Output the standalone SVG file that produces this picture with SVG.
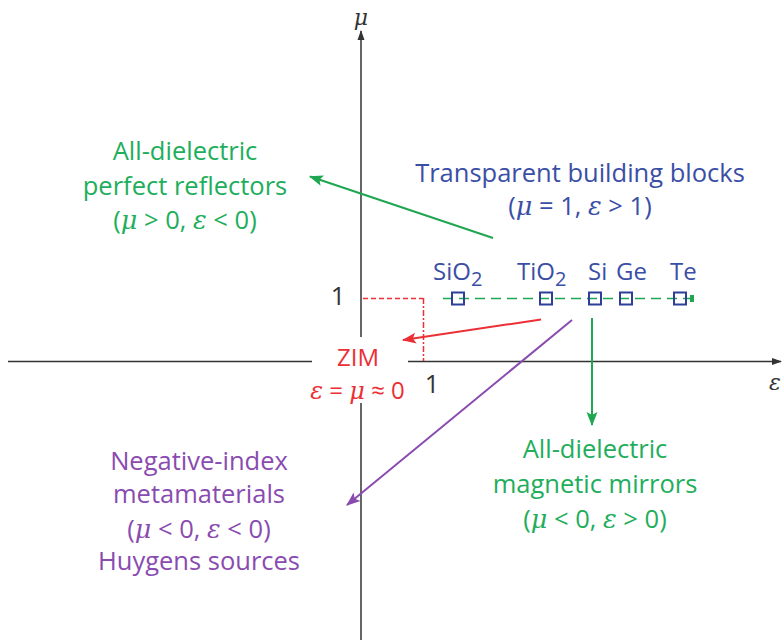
<svg xmlns="http://www.w3.org/2000/svg" width="782" height="644" viewBox="0 0 782 644">
<defs>
<style>
.t{font-family:"Open Sans","Noto Sans","Liberation Sans",sans-serif;font-size:25.5px;text-anchor:middle}
.m{font-size:24px}
.i{font-style:italic;font-family:"DejaVu Serif","Liberation Serif",serif}
.g{fill:#1eae5c}
.b{fill:#3b4ea6}
.p{fill:#8a4bb0}
.r{fill:#ec2f35}
.k{fill:#333333}
.sq{fill:none;stroke:#2d3f96;stroke-width:2}
</style>
<marker id="ak" markerWidth="10" markerHeight="10" refX="9" refY="5" orient="auto" markerUnits="userSpaceOnUse"><path d="M0,1.5 L10,5 L0,8.5 z" fill="#333"/></marker>
<marker id="ag" markerWidth="14" markerHeight="14" refX="13" refY="7" orient="auto" markerUnits="userSpaceOnUse"><path d="M0,1.5 L14,7 L0,12.5 L3,7 z" fill="#1ea650"/></marker>
<marker id="ar" markerWidth="14" markerHeight="14" refX="13" refY="7" orient="auto" markerUnits="userSpaceOnUse"><path d="M0,1.5 L14,7 L0,12.5 L3,7 z" fill="#ec2f35"/></marker>
<marker id="ap" markerWidth="14" markerHeight="14" refX="13" refY="7" orient="auto" markerUnits="userSpaceOnUse"><path d="M0,1.5 L14,7 L0,12.5 L3,7 z" fill="#8a4bb0"/></marker>
</defs>
<rect width="782" height="644" fill="#fff"/>
<g id="axes">
<line x1="8" y1="361.5" x2="781" y2="361.5" stroke="#333" stroke-width="1.5" marker-end="url(#ak)"/>
<line x1="361" y1="640" x2="361" y2="31" stroke="#333" stroke-width="1.5" marker-end="url(#ak)"/>
<text x="361" y="25" class="t i" style="font-size:22px" fill="#333">μ</text>
<text x="775" y="390" class="t i" style="font-size:22px" fill="#333">ε</text>
<text x="338" y="305" class="t k">1</text>
<text x="432" y="393" class="t k">1</text>
</g>
<g id="guides">
<line x1="363" y1="298.5" x2="423" y2="298.5" stroke="#ec2f35" stroke-width="1.5" stroke-dasharray="5 3"/>
<line x1="423.5" y1="298" x2="423.5" y2="361" stroke="#ec2f35" stroke-width="1.5" stroke-dasharray="6 2 2 2"/>
<line x1="443" y1="298.5" x2="691" y2="298.5" stroke="#1ea650" stroke-width="1.5" stroke-dasharray="10 6"/>
<rect x="690" y="295" width="4" height="7" fill="#1ea650"/>
</g>
<g id="zim">
<rect x="312" y="337" width="96" height="66" fill="#fff"/>
<text x="358" y="366" class="t r" style="font-size:24px">ZIM</text>
<text x="357.5" y="399" class="t r" style="font-size:24px"><tspan class="i">ε</tspan> = <tspan class="i">μ</tspan> ≈ 0</text>
</g>
<g id="materials">
<rect x="452" y="292.5" width="12" height="12" class="sq"/>
<rect x="540" y="292.5" width="12" height="12" class="sq"/>
<rect x="589" y="292.5" width="12" height="12" class="sq"/>
<rect x="620" y="292.5" width="12" height="12" class="sq"/>
<rect x="674" y="292.5" width="12" height="12" class="sq"/>
<text x="433" y="280" class="t m b" style="text-anchor:start">SiO<tspan dy="6" font-size="20">2</tspan></text>
<text x="517" y="280" class="t m b" style="text-anchor:start">TiO<tspan dy="6" font-size="20">2</tspan></text>
<text x="588" y="280" class="t m b" style="text-anchor:start">Si</text>
<text x="616" y="280" class="t m b" style="text-anchor:start">Ge</text>
<text x="670" y="280" class="t m b" style="text-anchor:start">Te</text>
</g>
<g id="transparent">
<text x="580" y="182" class="t b">Transparent building blocks</text>
<text x="580" y="215" class="t b">(<tspan class="i">μ</tspan> = 1, <tspan class="i">ε</tspan> &gt; 1)</text>
</g>
<g id="reflectors">
<text x="185" y="160" class="t g">All-dielectric</text>
<text x="185" y="195" class="t g">perfect reflectors</text>
<text x="185" y="229" class="t g">(<tspan class="i">μ</tspan> &gt; 0, <tspan class="i">ε</tspan> &lt; 0)</text>
</g>
<g id="negative">
<text x="199" y="470" class="t p">Negative-index</text>
<text x="199" y="503" class="t p">metamaterials</text>
<text x="199" y="538" class="t p">(<tspan class="i">μ</tspan> &lt; 0, <tspan class="i">ε</tspan> &lt; 0)</text>
<text x="199" y="570" class="t p">Huygens sources</text>
</g>
<g id="mirrors">
<text x="595" y="458" class="t g">All-dielectric</text>
<text x="595" y="493" class="t g">magnetic mirrors</text>
<text x="595" y="528" class="t g">(<tspan class="i">μ</tspan> &lt; 0, <tspan class="i">ε</tspan> &gt; 0)</text>
</g>
<g id="connectors" fill="none" stroke-width="2">
<line x1="493" y1="238" x2="310" y2="176.5" stroke="#1ea650" marker-end="url(#ag)"/>
<line x1="541" y1="319.5" x2="403" y2="340" stroke="#ec2f35" marker-end="url(#ar)"/>
<line x1="572" y1="320" x2="347" y2="505" stroke="#8a4bb0" marker-end="url(#ap)"/>
<line x1="592" y1="318" x2="592" y2="425" stroke="#1ea650" marker-end="url(#ag)"/>
</g>
</svg>
